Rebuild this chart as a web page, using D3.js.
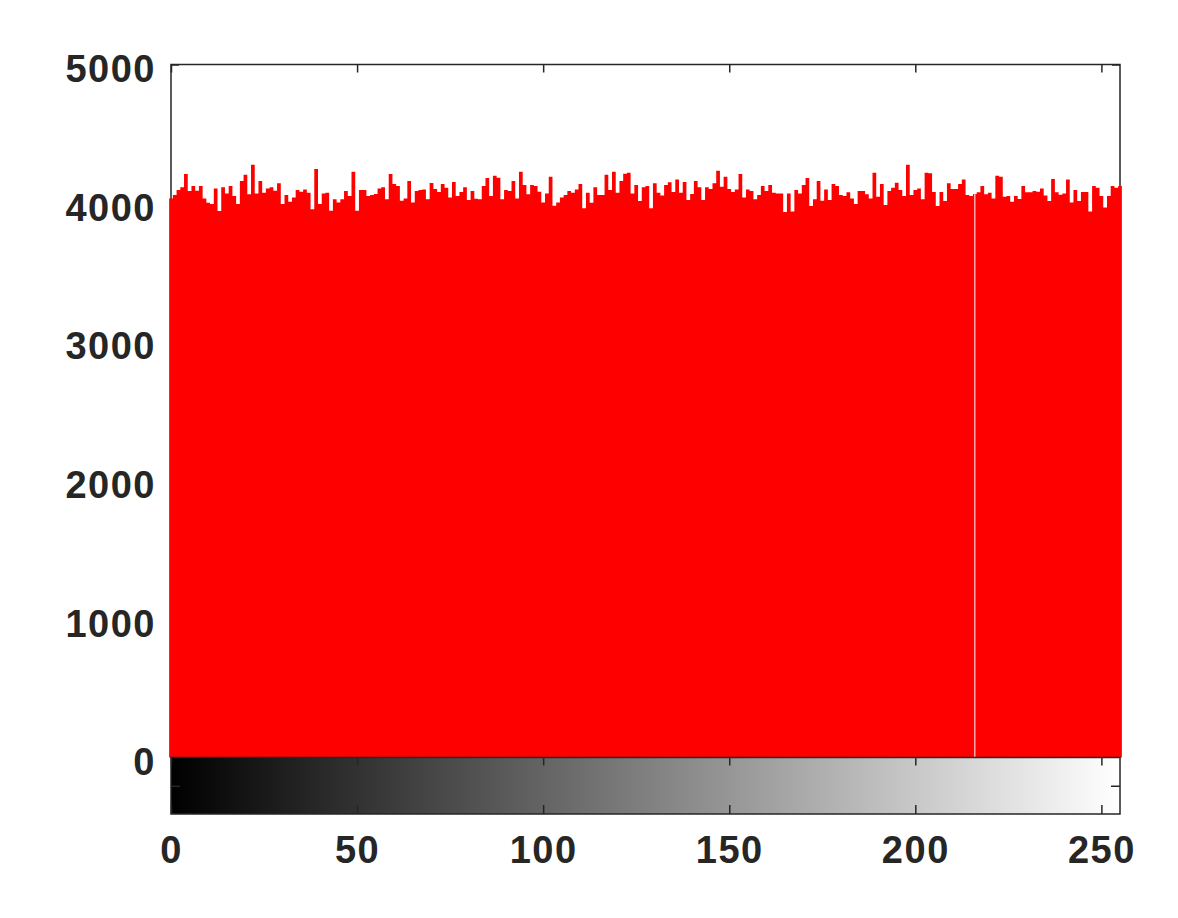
<!DOCTYPE html>
<html lang="en">
<head>
<meta charset="UTF-8">
<title>Histogram</title>
<script src="https://cdn.jsdelivr.net/npm/d3@7"></script>
<style>
  body { margin: 0; background: #fff; }
  .tick text { font-family: "Liberation Sans", Arial, sans-serif; font-weight: bold; font-size: 38px; fill: #262626; letter-spacing: 1.5px; }
</style>
</head>
<body>
<script>
// histogram counts for intensity levels 0..255
const counts = [
  4034,4058,4094,4114,4210,4087,4123,4090,4123,4034,4003,3993,4106,3943,4114,4070,4123,4051,3993,4159,4205,4063,4277,4070,4159,4075,4106,4114,4090,4143,3993,4058,4010,4041,4094,4082,4099,4075,3955,4246,3993,4070,4075,
  3945,4027,4005,4027,4087,4051,4227,3945,4094,4094,4051,4058,4066,4106,4114,4027,4210,4138,4123,4017,4034,4159,4005,4087,4094,4099,4027,4145,4102,4080,4138,4111,4041,4152,4051,4080,4114,4022,4087,4032,4027,4123,4181,
  4051,4198,4183,4027,4094,4087,4159,4034,4227,4130,4063,4130,4123,4082,4005,4070,4191,3981,4005,4041,4058,4087,4075,4099,4138,3962,4075,4003,4114,4058,4058,4205,4094,4227,4075,4159,4212,4219,4070,4130,4015,4114,4123,
  3962,4143,4075,4054,4130,4150,4080,4171,4075,4152,4022,4066,4159,4114,4022,4114,4102,4143,4234,4118,4191,4102,4080,4099,4210,4041,4099,4087,4027,4058,4123,4087,4130,4075,4070,4070,3936,4070,3940,4094,4070,4130,4181,
  3979,4027,4159,4017,4099,4022,4138,4123,4058,4051,4078,4034,3993,4087,4087,4063,4034,4219,4046,4138,3986,4087,4111,4147,4094,4051,4277,4058,4094,4106,4027,4219,4215,4080,3979,4080,4015,4143,4102,4102,4138,4171,4058,
  4051,4066,4078,4123,4063,4075,4034,4198,4191,4046,4051,4010,4051,4029,4123,4078,4078,4087,4082,4106,4054,4015,4174,4078,4061,4070,4171,4005,4094,4015,4080,4080,3940,4123,4111,4051,3969,4051,4123,4111,4123
]
const levels = d3.range(256)
const xTicks = [0, 50, 100, 150, 200, 250]
const yTicks = [0, 1000, 2000, 3000, 4000, 5000]
const gapLevels = [216]   // thin white seam visible in the bars

const width = 1178, height = 918
const plotL = 171, plotR = 1120, plotT = 64.5, plotB = 757.5, cbarB = 814

const svg = d3.select("body").append("svg").attr("width", width).attr("height", height)
svg.append("rect").attr("width", width).attr("height", height).attr("fill", "#fff")

const x = d3.scaleLinear().domain([0, 255]).range([plotL, plotR])
const y = d3.scaleLinear().domain([0, 5000]).range([plotB, plotT])
const cy = d3.scaleLinear().domain([0, 1]).range([cbarB, plotB])

const ink = "#262626"
const noLabel = () => ""

// main axes frame
svg.append("path")
  .attr("d", `M${plotL},${plotB}V${plotT}H${plotR}V${plotB}`)
  .attr("fill", "none").attr("stroke", ink).attr("stroke-width", 1.5)

svg.append("g").attr("transform", `translate(0,${plotT})`)
  .call(d3.axisTop(x).tickValues(xTicks).tickSizeInner(-8).tickSizeOuter(0).tickFormat(noLabel))
  .call(g => g.select(".domain").remove())
svg.append("g").attr("transform", `translate(${plotR},0)`)
  .call(d3.axisRight(y).tickValues(yTicks).tickSizeInner(-8).tickSizeOuter(0).tickFormat(noLabel))
  .call(g => g.select(".domain").remove())

const yAxis = svg.append("g").attr("transform", `translate(${plotL},0)`)
  .call(d3.axisLeft(y).tickValues(yTicks).tickSizeInner(-8).tickSizeOuter(0).tickPadding(15).tickFormat(d3.format("d")))
  .call(g => g.select(".domain").remove())
yAxis.selectAll(".tick text").attr("dy", "0.45em")

// bars, centred on each level, drawn as one stepped outline so no seams show
const barPath = d3.area()
  .curve(d3.curveStepAfter)
  .x(d => x(d - 0.5))
  .y0(y(0))
  .y1(d => y(counts[Math.min(d, 255)]))
svg.append("path")
  .datum(d3.range(257))
  .attr("d", barPath)
  .attr("fill", "#ff0000")

svg.append("g").selectAll("line")
  .data(gapLevels)
  .join("line")
  .attr("x1", d => x(d)).attr("x2", d => x(d))
  .attr("y1", d => y(counts[d])).attr("y2", y(0))
  .attr("stroke", "#fff").attr("stroke-width", 1)

// grayscale colour bar
const grad = svg.append("defs").append("linearGradient")
  .attr("id", "gray").attr("gradientUnits", "userSpaceOnUse")
  .attr("x1", x(0)).attr("x2", x(255)).attr("y1", 0).attr("y2", 0)
grad.selectAll("stop")
  .data([0, 255])
  .join("stop")
  .attr("offset", d => d / 255)
  .attr("stop-color", d => d3.rgb(d, d, d))

svg.append("rect")
  .attr("x", plotL).attr("y", cy(1))
  .attr("width", plotR - plotL).attr("height", cy(0) - cy(1))
  .attr("fill", "url(#gray)").attr("stroke", ink).attr("stroke-width", 1.5)

svg.append("g").attr("transform", `translate(0,${cy(1)})`)
  .call(d3.axisTop(x).tickValues(xTicks).tickSizeInner(-8).tickSizeOuter(0).tickFormat(noLabel))
  .call(g => g.select(".domain").remove())
svg.append("g").attr("transform", `translate(${plotL},0)`)
  .call(d3.axisLeft(cy).tickValues([0.5]).tickSizeInner(-9).tickSizeOuter(0).tickFormat(noLabel))
  .call(g => g.select(".domain").remove())
svg.append("g").attr("transform", `translate(${plotR},0)`)
  .call(d3.axisRight(cy).tickValues([0.5]).tickSizeInner(-9).tickSizeOuter(0).tickFormat(noLabel))
  .call(g => g.select(".domain").remove())
svg.append("g").attr("transform", `translate(0,${cbarB})`)
  .call(d3.axisBottom(x).tickValues(xTicks).tickSizeInner(-9).tickSizeOuter(0).tickPadding(22))
  .call(g => g.select(".domain").remove())

svg.selectAll(".tick line").attr("stroke", ink).attr("stroke-width", 1.5)
</script>
</body>
</html>
